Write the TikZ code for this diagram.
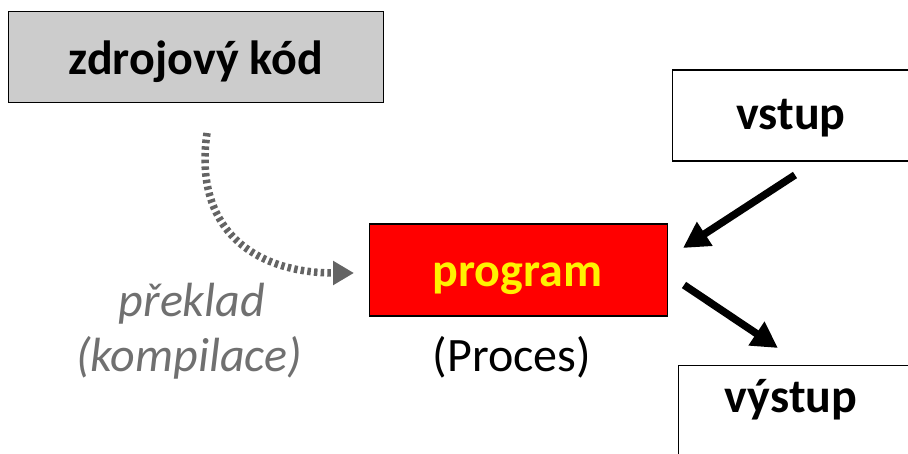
\documentclass[tikz,border=0pt]{standalone}
\usepackage{fontspec}
\setmainfont{Carlito}
\usetikzlibrary{arrows.meta}
\definecolor{boxgray}{RGB}{204,204,204}
\definecolor{dotgray}{RGB}{100,100,100}
\definecolor{labgray}{RGB}{112,112,112}
\begin{document}
\begin{tikzpicture}[x=1pt,y=-1pt,
  box/.style={draw=black, line width=1.4pt, inner sep=0pt, anchor=north west},
  boxtext/.style={font=\fontsize{48}{56}\selectfont\bfseries, anchor=base, inner sep=0pt},
  plaintext/.style={font=\fontsize{48}{56}\selectfont, anchor=base, inner sep=0pt},
  bigarrow/.style={line width=7.5pt, -{Triangle[length=26pt,width=27pt]}},
  dotarrow/.style={dotgray, line width=7.5pt, dash pattern=on 3.5pt off 3.2pt, -{Triangle[length=21pt,width=23pt]}}]
\useasboundingbox (0,0) rectangle (908,454);
\clip (0,0) rectangle (908,454);
\node[box, fill=boxgray, minimum width=375pt, minimum height=91pt] (src) at (7.5,11) {};
\node[boxtext] (srctext) at (196,75) {zdrojový kód};
\node[box, fill=white, minimum width=260pt, minimum height=91pt] (in) at (671.5,69.5) {};
\node[boxtext] (intext) at (791,130) {vstup};
\node[box, fill=red, minimum width=298pt, minimum height=92pt] (prog) at (368.5,223.5) {};
\node[boxtext, text=yellow] (progtext) at (517.5,287) {program};
\node[box, fill=white, minimum width=260pt, minimum height=110pt] (out) at (677.5,365) {};
\node[boxtext] (outtext) at (791,413) {výstup};
\node[plaintext] (proc) at (512,372) {(Proces)};
\node[plaintext, font=\fontsize{48}{56}\selectfont\itshape, text=labgray] (tr1) at (192,317) {překlad};
\node[plaintext, font=\fontsize{48}{56}\selectfont\itshape, text=labgray] (tr2) at (189,371) {(kompilace)};
\coordinate (d0) at (207,133);
\coordinate (d1) at (354,273);
\draw[dotarrow] (d0) .. controls (193,230) and (255,273) .. (d1);
\coordinate (a0) at (795,175);
\coordinate (a1) at (683,248);
\coordinate (b0) at (684,285);
\coordinate (b1) at (778,348);
\draw[bigarrow] (a0) -- (a1);
\draw[bigarrow] (b0) -- (b1);
\end{tikzpicture}
\end{document}
